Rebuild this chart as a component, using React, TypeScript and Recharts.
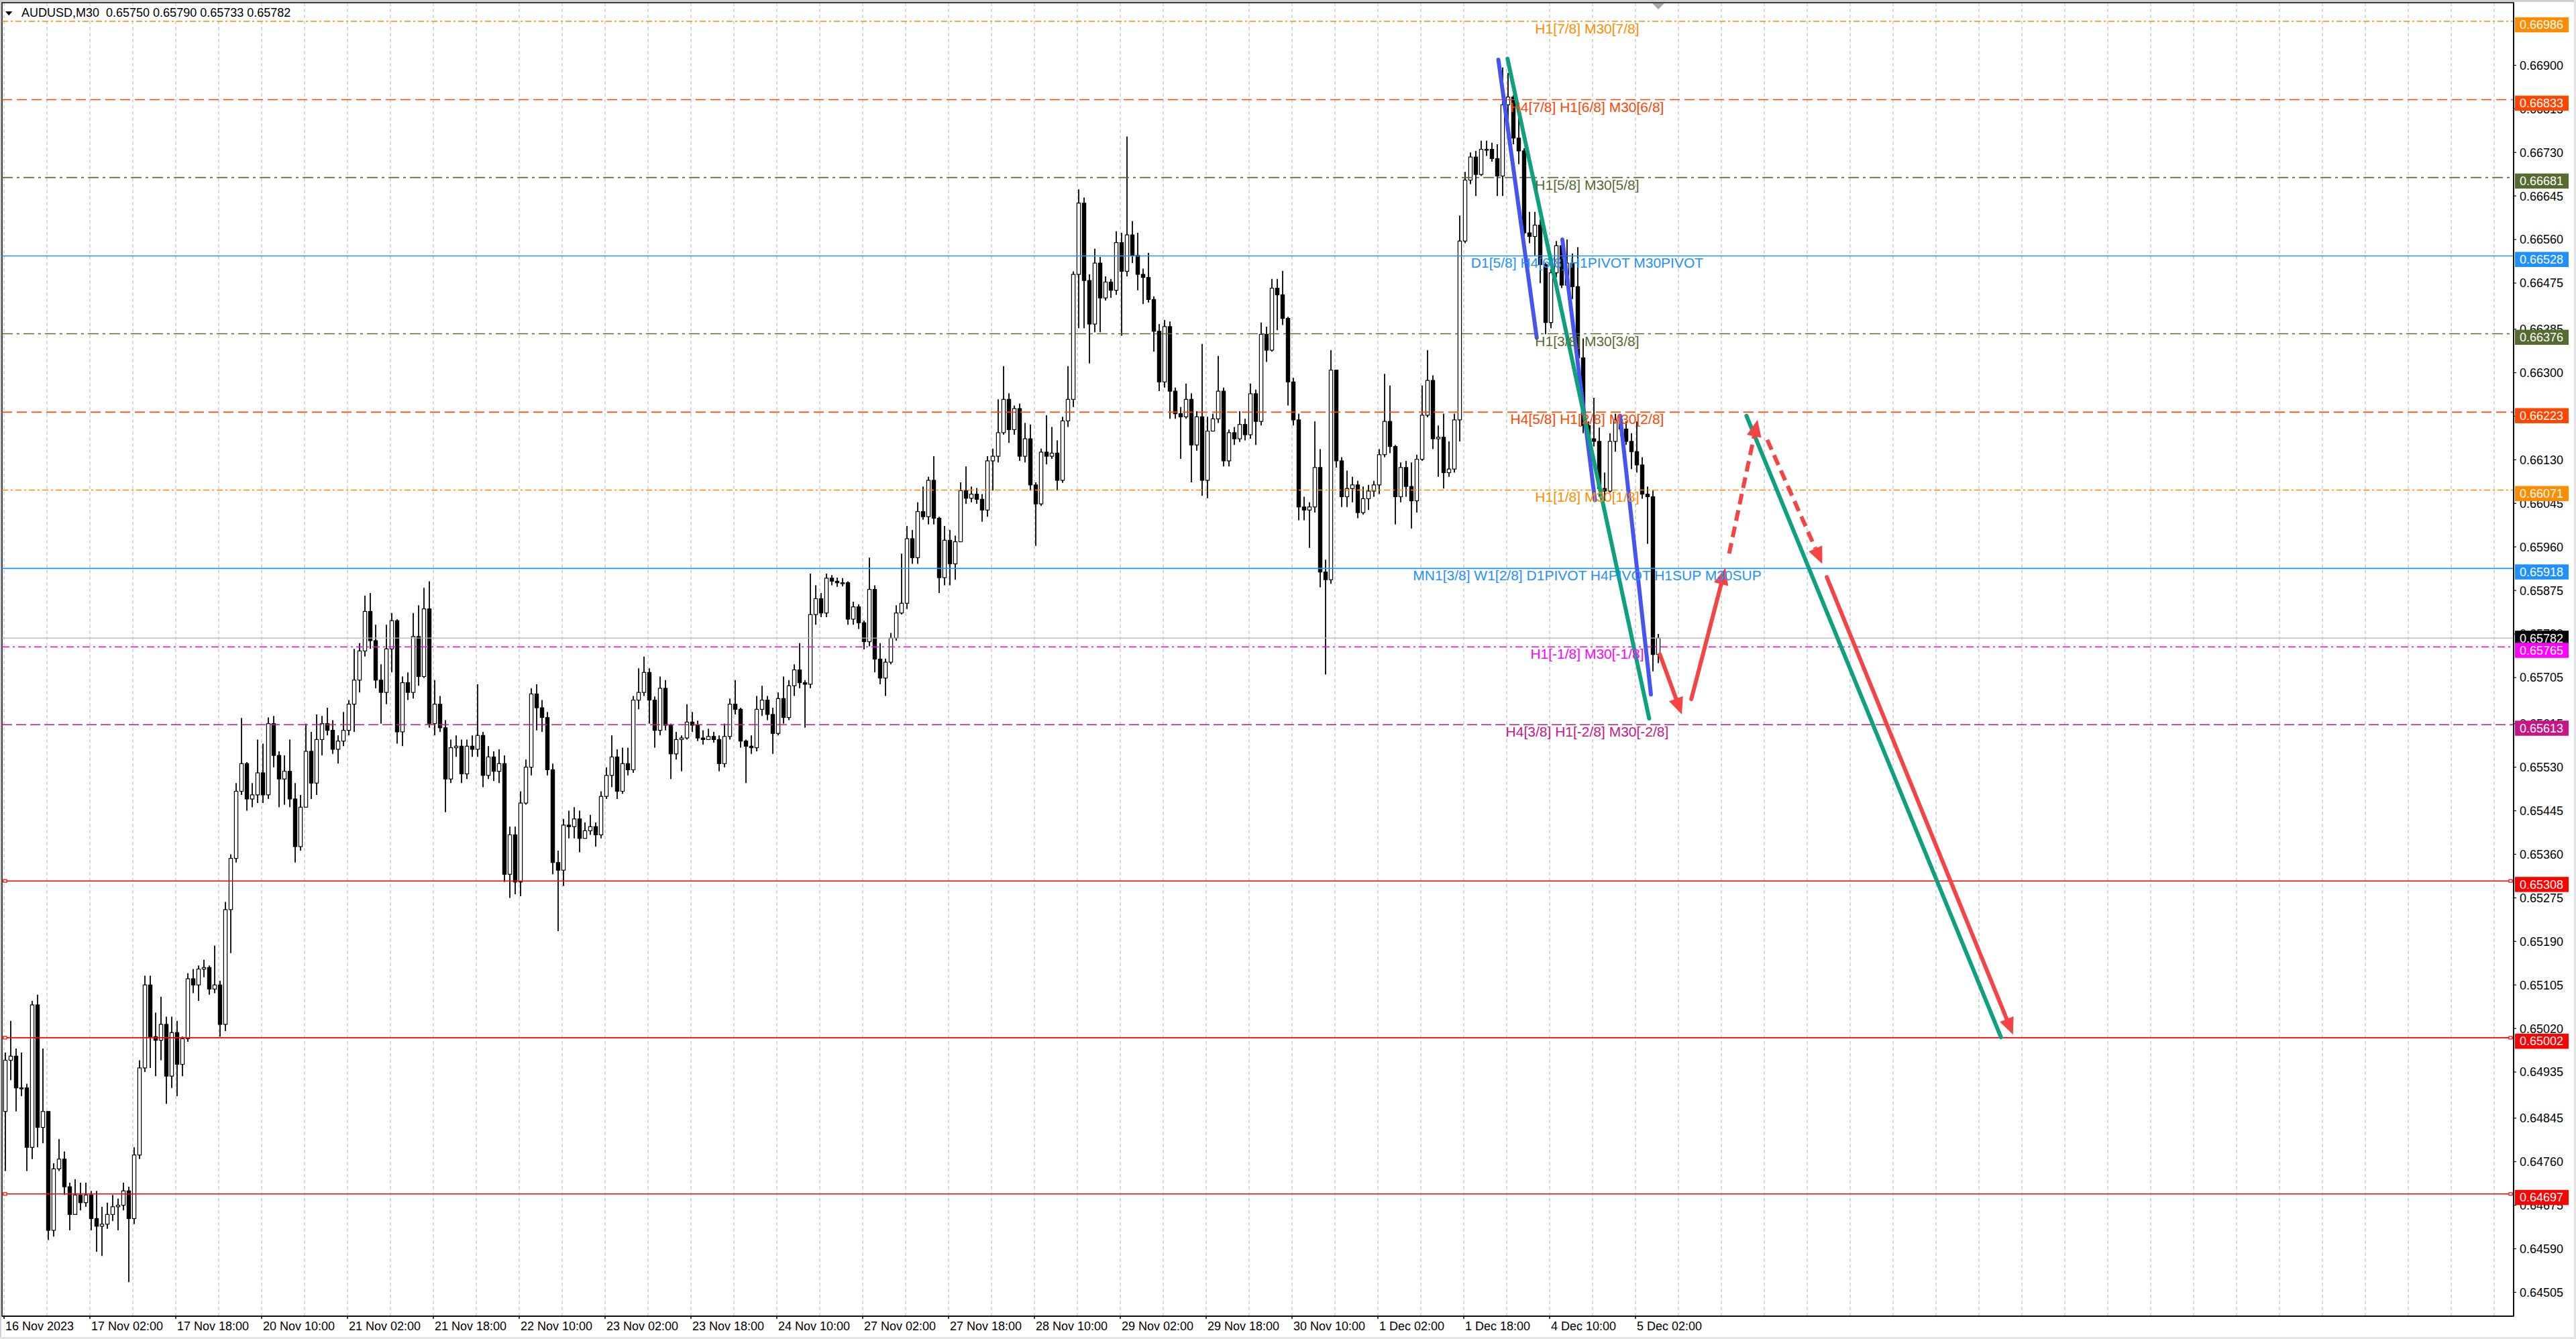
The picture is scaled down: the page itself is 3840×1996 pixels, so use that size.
import React from 'react';
import {
  ComposedChart, Bar, XAxis, YAxis, CartesianGrid,
  ReferenceLine, ReferenceDot, ReferenceArea,
} from 'recharts';

const SYMBOL = 'AUDUSD';
const PERIOD = 'M30';

// hourly candles, 16 Nov 2023 10:00 -> 5 Dec 2023 06:00, prices in points (1e-5)
const FIRST_OPEN = 64858;
const CLOSE = [
  64958, 64966, 64904, 64904, 64788, 65066, 64827, 64858, 64626, 64746,
  64765, 64711, 64657, 64695, 64680, 64695, 64649, 64634, 64638, 64657,
  64672, 64675, 64703, 64649, 64773, 64943, 65105, 65004, 64997, 65028,
  64927, 65012, 64950, 65000, 65117, 65105, 65136, 65139, 65097, 65105,
  65028, 65252, 65352, 65483, 65537, 65468, 65476, 65519, 65476, 65615,
  65553, 65507, 65522, 65468, 65375, 65452, 65561, 65499, 65584, 65615,
  65602, 65565, 65581, 65602, 65653, 65700, 65757, 65834, 65777, 65700,
  65676, 65761, 65816, 65599, 65695, 65676, 65785, 65707, 65839, 65615,
  65653, 65607, 65507, 65568, 65571, 65517, 65571, 65565, 65592, 65514,
  65550, 65522, 65537, 65321, 65398, 65306, 65460, 65530, 65673, 65646,
  65627, 65525, 65344, 65329, 65417, 65414, 65429, 65391, 65406, 65414,
  65398, 65473, 65514, 65550, 65483, 65537, 65525, 65661, 65676, 65715,
  65661, 65602, 65684, 65612, 65556, 65584, 65587, 65618, 65612, 65587,
  65584, 65590, 65584, 65537, 65590, 65653, 65643, 65581, 65571, 65568,
  65643, 65661, 65633, 65596, 65664, 65627, 65689, 65720, 65695, 65692,
  65828, 65859, 65831, 65899, 65893, 65890, 65890, 65819, 65843, 65812,
  65775, 65877, 65741, 65704, 65735, 65782, 65831, 65850, 65976, 65939,
  66029, 66019, 66090, 66016, 65900, 65973, 65927, 65970, 66070, 66055,
  66063, 66053, 66032, 66128, 66137, 66183, 66248, 66189, 66230, 66137,
  66171, 66081, 66044, 66145, 66137, 66143, 66090, 66206, 66248, 66492,
  66631, 66480, 66395, 66514, 66446, 66477, 66461, 66554, 66498, 66569,
  66529, 66492, 66486, 66443, 66381, 66282, 66390, 66264, 66220, 66214,
  66248, 66159, 66214, 66090, 66186, 66210, 66264, 66128, 66183, 66171,
  66199, 66179, 66259, 66205, 66375, 66344, 66465, 66452, 66406, 66282,
  66208, 66038, 66032, 66038, 66115, 65911, 65896, 66305, 66128, 66058,
  66074, 66081, 66027, 66054, 66069, 66081, 66140, 66205, 66156, 66058,
  66115, 66078, 66050, 66131, 66217, 66285, 66171, 66174, 66105, 66112,
  66208, 66557, 66676, 66721, 66687, 66736, 66736, 66718, 66684, 66823,
  66838, 66758, 66733, 66573, 66566, 66588, 66511, 66398, 66495, 66548,
  66471, 66514, 66468, 66329, 66197, 66171, 66166, 66074, 66069, 66166,
  66208, 66190, 66166, 66146, 66120, 66063, 66058, 65750, 65782,
];
const HIGH = [
  64973, 65035, 64981, 64973, 64912, 65074, 65086, 64981, 64858, 64757,
  64804, 64780, 64719, 64726, 64719, 64719, 64703, 64703, 64672, 64680,
  64695, 64688, 64719, 64711, 64788, 64958, 65123, 65123, 65051, 65082,
  65043, 65043, 65035, 65004, 65128, 65136, 65143, 65154, 65143, 65182,
  65113, 65267, 65360, 65499, 65626, 65540, 65499, 65584, 65576, 65627,
  65630, 65561, 65553, 65584, 65499, 65476, 65615, 65599, 65633, 65630,
  65646, 65622, 65592, 65638, 65661, 65761, 65772, 65865, 65870, 65808,
  65731, 65808, 65831, 65819, 65707, 65715, 65831, 65846, 65880, 65893,
  65700, 65669, 65622, 65584, 65592, 65584, 65584, 65592, 65692, 65599,
  65571, 65561, 65565, 65553, 65414, 65414, 65483, 65545, 65684, 65692,
  65661, 65638, 65537, 65367, 65429, 65445, 65452, 65445, 65422, 65437,
  65422, 65483, 65530, 65592, 65565, 65568, 65568, 65669, 65723, 65746,
  65723, 65668, 65707, 65700, 65615, 65599, 65592, 65653, 65638, 65621,
  65602, 65605, 65599, 65592, 65615, 65664, 65700, 65646, 65584, 65592,
  65669, 65689, 65669, 65646, 65676, 65707, 65700, 65731, 65772, 65700,
  65908, 65885, 65870, 65908, 65905, 65900, 65899, 65893, 65853, 65848,
  65816, 65939, 65885, 65772, 65742, 65792, 65846, 65947, 66001, 65993,
  66047, 66078, 66097, 66137, 66019, 66001, 65993, 65982, 66086, 66117,
  66078, 66075, 66063, 66137, 66152, 66248, 66313, 66260, 66236, 66240,
  66202, 66199, 66086, 66152, 66217, 66194, 66168, 66214, 66313, 66498,
  66658, 66642, 66492, 66542, 66526, 66488, 66483, 66576, 66573, 66761,
  66596, 66573, 66503, 66534, 66449, 66395, 66403, 66400, 66271, 66233,
  66279, 66260, 66225, 66356, 66214, 66220, 66333, 66271, 66189, 66194,
  66225, 66210, 66279, 66267, 66398, 66390, 66483, 66483, 66499, 66409,
  66290, 66220, 66058, 66047, 66205, 66151, 65935, 66344, 66305, 66135,
  66109, 66097, 66089, 66078, 66081, 66089, 66151, 66298, 66275, 66159,
  66125, 66128, 66125, 66140, 66275, 66344, 66295, 66197, 66220, 66166,
  66220, 66607, 66692, 66730, 66733, 66753, 66753, 66749, 66746, 66896,
  66885, 66842, 66800, 66738, 66614, 66614, 66599, 66514, 66502, 66557,
  66563, 66560, 66533, 66545, 66367, 66205, 66251, 66193, 66105, 66182,
  66220, 66217, 66205, 66182, 66205, 66135, 66078, 66070, 65790,
];
const LOW = [
  64742, 64919, 64858, 64888, 64742, 64765, 64788, 64796, 64607, 64614,
  64742, 64695, 64626, 64657, 64665, 64672, 64626, 64584, 64576, 64629,
  64644, 64626, 64665, 64525, 64638, 64765, 64935, 64943, 64927, 64958,
  64873, 64904, 64888, 64927, 64994, 65089, 65074, 65120, 65086, 65089,
  65004, 65015, 65167, 65344, 65476, 65445, 65452, 65460, 65460, 65468,
  65530, 65452, 65457, 65452, 65344, 65367, 65452, 65468, 65476, 65553,
  65592, 65556, 65537, 65571, 65592, 65599, 65676, 65746, 65761, 65684,
  65615, 65653, 65715, 65576, 65571, 65661, 65664, 65689, 65704, 65607,
  65592, 65599, 65442, 65499, 65550, 65499, 65507, 65550, 65550, 65491,
  65507, 65503, 65499, 65306, 65275, 65282, 65278, 65457, 65514, 65602,
  65599, 65514, 65321, 65210, 65298, 65391, 65391, 65364, 65391, 65398,
  65375, 65391, 65468, 65491, 65468, 65478, 65514, 65519, 65643, 65669,
  65615, 65568, 65592, 65602, 65507, 65545, 65522, 65584, 65599, 65581,
  65574, 65584, 65578, 65522, 65530, 65584, 65633, 65568, 65499, 65556,
  65561, 65630, 65622, 65556, 65592, 65615, 65622, 65669, 65684, 65607,
  65684, 65808, 65823, 65823, 65885, 65882, 65883, 65808, 65808, 65800,
  65760, 65766, 65715, 65692, 65669, 65731, 65777, 65828, 65839, 65927,
  65927, 66013, 66004, 66004, 65870, 65885, 65885, 65896, 65970, 66044,
  66047, 66044, 66009, 66019, 66070, 66125, 66179, 66163, 66179, 66128,
  66125, 66070, 65962, 66040, 66121, 66132, 66070, 66085, 66194, 66233,
  66387, 66387, 66318, 66379, 66379, 66441, 66446, 66452, 66372, 66488,
  66514, 66461, 66434, 66437, 66341, 66264, 66271, 66210, 66210, 66132,
  66210, 66086, 66148, 66060, 66055, 66186, 66202, 66117, 66117, 66159,
  66165, 66168, 66171, 66159, 66197, 66321, 66341, 66383, 66393, 66236,
  66197, 66012, 66012, 65958, 66027, 65881, 65711, 65888, 66115, 66038,
  66038, 66047, 66016, 66023, 66032, 66058, 66063, 66135, 66143, 66004,
  66047, 66058, 65996, 66027, 66128, 66213, 66151, 66097, 66074, 66097,
  66105, 66166, 66553, 66668, 66645, 66684, 66723, 66712, 66645, 66645,
  66761, 66746, 66707, 66560, 66553, 66529, 66475, 66375, 66387, 66486,
  66465, 66465, 66444, 66313, 66182, 66156, 66156, 66058, 66050, 66066,
  66146, 66177, 66159, 66112, 66105, 66054, 65966, 65717, 65733,
];

// one label every 32 half-hour slots
const TIME_LABELS = [
  '16 Nov 2023', '17 Nov 02:00', '17 Nov 18:00', '20 Nov 10:00', '21 Nov 02:00',
  '21 Nov 18:00', '22 Nov 10:00', '23 Nov 02:00', '23 Nov 18:00', '24 Nov 10:00',
  '27 Nov 02:00', '27 Nov 18:00', '28 Nov 10:00', '29 Nov 02:00', '29 Nov 18:00',
  '30 Nov 10:00', '1 Dec 02:00', '1 Dec 18:00', '4 Dec 10:00', '5 Dec 02:00',
];

const PRICE_TICKS = [
  0.669, 0.66815, 0.6673, 0.66645, 0.6656, 0.66475, 0.66385, 0.663, 0.66215, 0.6613,
  0.66045, 0.6596, 0.65875, 0.6579, 0.65705, 0.65615, 0.6553, 0.65445, 0.6536, 0.65275,
  0.6519, 0.65105, 0.6502, 0.64935, 0.64845, 0.6476, 0.64675, 0.6459, 0.64505,
];

const LEVEL_PRICES = [
  0.66986, 0.66833, 0.66681, 0.66528, 0.66376, 0.66223, 0.66071,
  0.65918, 0.65765, 0.65613, 0.65308, 0.65002, 0.64697,
];
const LEVEL_NAMES = [
  'H1[7/8] M30[7/8]',
  'H4[7/8] H1[6/8] M30[6/8]',
  'H1[5/8] M30[5/8]',
  'D1[5/8] H4[6/8] H1PIVOT M30PIVOT',
  'H1[3/8] M30[3/8]',
  'H4[5/8] H1[2/8] M30[2/8]',
  'H1[1/8] M30[1/8]',
  'MN1[3/8] W1[2/8] D1PIVOT H4PIVOT H1SUP M30SUP',
  'H1[-1/8] M30[-1/8]',
  'H4[3/8] H1[-2/8] M30[-2/8]',
  '', '', '',
];

// drawn objects: [slot from, price from, slot to, price to]
const BLUE_LINES = [
  [556.9, 0.66911, 571.2, 0.66368],
  [580.75, 0.6656, 592.9, 0.66051],
  [602.25, 0.66216, 613.75, 0.65672],
];
const GREEN_LINES = [
  [560.3, 0.66913, 613.1, 0.65625],
  [649.35, 0.66216, 744.2, 0.65003],
];
const RED_ARROWS = [
  [617.1, 0.6575, 625.25, 0.65633],
  [628.8, 0.65663, 641.5, 0.65919],
  [679.3, 0.65901, 748.7, 0.65008],
];
const RED_DASHED_ARROWS = [
  [642.9, 0.65947, 653.5, 0.66208],
  [657.1, 0.66169, 677.6, 0.65927],
];

// ---- layout / styles ----
const W = 3840;
const H = 1996;
const FONT = '"Liberation Sans", Arial, sans-serif';
const X_MIN = -0.75;
const X_MAX = 935.25;
const Y_MIN = 0.644584;
const Y_MAX = 0.670223;
const LABEL_SLOT = 590;

type LevelStyle = { color: string; dash?: string; marks?: boolean };
const LEVEL_STYLE: LevelStyle[] = [
  { color: '#FF8C00', dash: '9 4 3 4' },
  { color: '#FF4500', dash: '15 7' },
  { color: '#556B2F', dash: '16 6 4 6' },
  { color: '#1E90FF' },
  { color: '#556B2F', dash: '16 6 4 6' },
  { color: '#FF4500', dash: '15 7' },
  { color: '#FF8C00', dash: '9 4 3 4' },
  { color: '#1E90FF' },
  { color: '#FF00FF', dash: '11 5 3 5' },
  { color: '#C71585', dash: '15 6' },
  { color: '#FF0000', marks: true },
  { color: '#FF0000', marks: true },
  { color: '#FF0000', marks: true },
];

const BLUE = '#4655F0';
const GREEN = '#0FA080';
const RED = '#F44444';

function priceTag(x: number, top: number, price: number, bg: string) {
  return (
    <g>
      <rect x={x + 2} y={top} width={80} height={22.5} fill={bg} />
      <text x={x + 9} y={top + 17.5} fill="#fff" fontSize={18}>{price.toFixed(5)}</text>
    </g>
  );
}

// price scale tick: small mark + number, drawn right of the plot
const tickShape = (price: number) => (p: any) => {
  const right = Math.max(p.x1, p.x2);
  return (
    <g>
      <line x1={right} y1={p.y1} x2={right + 4} y2={p.y1} stroke="#000" strokeWidth={1.2} />
      <text x={right + 9} y={p.y1 + 6.4} fontSize={18} fill="#000">{price.toFixed(5)}</text>
    </g>
  );
};

const levelShape = (price: number, st: LevelStyle) => (p: any) => {
  const left = Math.min(p.x1, p.x2);
  const right = Math.max(p.x1, p.x2);
  const y = p.y1;
  return (
    <g>
      <line x1={left} y1={y} x2={right} y2={y} stroke={st.color} strokeWidth={1.6} strokeDasharray={st.dash} />
      {st.marks && (
        <g>
          <rect x={left + 2} y={y - 2} width={5} height={4} fill="#fff" stroke={st.color} strokeWidth={1.2} />
          <rect x={right - 7} y={y - 2} width={5} height={4} fill="#fff" stroke={st.color} strokeWidth={1.2} />
        </g>
      )}
      {priceTag(right, y - 6, price, st.color)}
    </g>
  );
};

const bidShape = (price: number) => (p: any) => {
  const left = Math.min(p.x1, p.x2);
  const right = Math.max(p.x1, p.x2);
  return (
    <g>
      <line x1={left} y1={p.y1} x2={right} y2={p.y1} stroke="#B4B4B4" strokeWidth={1.3} />
      {priceTag(right, p.y1 - 11, price, '#000')}
    </g>
  );
};

const strokeShape = (color: string, arrow: boolean, dashed: boolean) => (p: any) => {
  const { x1, y1, x2, y2 } = p;
  if (!arrow) {
    return <line x1={x1} y1={y1} x2={x2} y2={y2} stroke={color} strokeWidth={6} strokeLinecap="round" />;
  }
  const dx = x2 - x1;
  const dy = y2 - y1;
  const len = Math.hypot(dx, dy) || 1;
  const ux = dx / len;
  const uy = dy / len;
  const hl = 25;
  const hw = 11;
  const bx = x2 - ux * hl;
  const by = y2 - uy * hl;
  return (
    <g>
      <line
        x1={x1} y1={y1} x2={bx} y2={by}
        stroke={color} strokeWidth={6}
        strokeLinecap={dashed ? 'butt' : 'round'}
        strokeDasharray={dashed ? '16 9' : undefined}
      />
      <polygon
        points={`${x2},${y2} ${bx - uy * hw},${by + ux * hw} ${bx + uy * hw},${by - ux * hw}`}
        fill={color}
      />
    </g>
  );
};

const Candle = (p: any) => {
  const { x, y, width, height, payload } = p;
  if (!payload || width == null) return null;
  const { o, h, l, c } = payload;
  const yHigh = Math.min(y, y + height);
  const yLow = Math.max(y, y + height);
  const span = h - l || 1e-9;
  const py = (v: number) => yHigh + ((h - v) / span) * (yLow - yHigh);
  const cx = x + width / 2;
  const top = py(Math.max(o, c));
  const bot = py(Math.min(o, c));
  const bull = c >= o;
  return (
    <g>
      <line x1={cx} x2={cx} y1={yHigh} y2={yLow} stroke="#000" strokeWidth={1.8} />
      <rect
        x={cx - 2.6} y={top} width={5.2} height={Math.max(bot - top, 1.4)}
        fill={bull ? '#fff' : '#000'} stroke="#000" strokeWidth={1.2}
      />
    </g>
  );
};

const TimeTick = (p: any) => {
  const k = Math.round(p.payload.value / 32);
  return (
    <text x={p.x + 2} y={p.y + 15} fontSize={18} fill="#000" textAnchor="start">
      {TIME_LABELS[k]}
    </text>
  );
};

export default function App() {
  const rows = CLOSE.map((c, i) => {
    const o = (i === 0 ? FIRST_OPEN : CLOSE[i - 1]) / 1e5;
    const h = HIGH[i] / 1e5;
    const l = LOW[i] / 1e5;
    return { slot: 2 * i + 0.5, o, h, l, c: c / 1e5, range: [l, h] };
  });
  const last = rows[rows.length - 1];
  const header = `${SYMBOL},${PERIOD}  ${last.o.toFixed(5)} ${last.h.toFixed(5)} ${last.l.toFixed(5)} ${last.c.toFixed(5)}`;
  const timeTicks = TIME_LABELS.map((_, k) => 32 * k);
  const gridSlots = Array.from({ length: 59 }, (_, k) => 16 * k);
  const seg = (s: number[]) => [{ x: s[0], y: s[1] }, { x: s[2], y: s[3] }] as any;

  return (
    <div style={{ position: 'absolute', left: 0, top: 0, width: W, height: H, background: '#fff', fontFamily: FONT, overflow: 'hidden' }}>
      <div style={{ position: 'absolute', left: 0, top: 0, width: W, height: 3, background: '#CFCFCF' }} />
      <div style={{ position: 'absolute', left: 0, top: 0, width: 2, height: H, background: '#CFCFCF' }} />
      <div style={{ position: 'absolute', right: 0, top: 0, width: 3, height: H, background: '#E4E4E4' }} />
      <div style={{ position: 'absolute', left: 0, bottom: 0, width: W, height: 3, background: '#E4E4E4' }} />
      <div style={{ position: 'absolute', left: 0, top: 0 }}>
        <ComposedChart width={W} height={H} data={rows} margin={{ top: 4, right: 0, bottom: 0, left: 3 }}>
          <CartesianGrid
            horizontalValues={PRICE_TICKS}
            verticalValues={gridSlots}
            stroke="#C4C4C4"
            strokeWidth={1.3}
            strokeDasharray="5 4"
          />
          <XAxis
            dataKey="slot"
            type="number"
            domain={[X_MIN, X_MAX]}
            allowDataOverflow
            ticks={timeTicks}
            interval={0}
            tick={TimeTick}
            tickSize={4}
            tickMargin={2}
            height={34}
            axisLine={{ stroke: '#000', strokeWidth: 1.5 }}
            tickLine={{ stroke: '#000', strokeWidth: 1.5 }}
          />
          <YAxis
            orientation="right"
            type="number"
            domain={[Y_MIN, Y_MAX]}
            allowDataOverflow
            ticks={PRICE_TICKS}
            interval={0}
            width={93}
            tick={false}
            tickLine={false}
            axisLine={{ stroke: '#000', strokeWidth: 1.5 }}
          />
          <ReferenceArea
            x1={X_MIN} x2={X_MAX} y1={Y_MIN} y2={Y_MAX}
            fill="none" fillOpacity={0} stroke="#000" strokeWidth={1.5} ifOverflow="visible"
          />
          {PRICE_TICKS.map((t) => (
            <ReferenceLine key={`t${t}`} y={t} shape={tickShape(t)} ifOverflow="visible" />
          ))}
          <ReferenceLine y={last.c} shape={bidShape(last.c)} ifOverflow="visible" />
          {LEVEL_PRICES.map((price, i) => (
            <ReferenceLine key={`lv${i}`} y={price} shape={levelShape(price, LEVEL_STYLE[i])} ifOverflow="visible" />
          ))}
          {LEVEL_PRICES.map((price, i) => LEVEL_NAMES[i] ? (
            <ReferenceDot
              key={`ln${i}`}
              x={LABEL_SLOT}
              y={price}
              r={0}
              ifOverflow="visible"
              shape={(p: any) => (
                <text x={p.cx} y={p.cy + 18} fontSize={21} fill={LEVEL_STYLE[i].color} textAnchor="middle">
                  {LEVEL_NAMES[i]}
                </text>
              )}
            />
          ) : null)}
          <Bar dataKey="range" barSize={6} shape={Candle} isAnimationActive={false} />
          {BLUE_LINES.map((s, i) => (
            <ReferenceLine key={`b${i}`} segment={seg(s)} shape={strokeShape(BLUE, false, false)} ifOverflow="visible" />
          ))}
          {GREEN_LINES.map((s, i) => (
            <ReferenceLine key={`g${i}`} segment={seg(s)} shape={strokeShape(GREEN, false, false)} ifOverflow="visible" />
          ))}
          {RED_ARROWS.map((s, i) => (
            <ReferenceLine key={`r${i}`} segment={seg(s)} shape={strokeShape(RED, true, false)} ifOverflow="visible" />
          ))}
          {RED_DASHED_ARROWS.map((s, i) => (
            <ReferenceLine key={`rd${i}`} segment={seg(s)} shape={strokeShape(RED, true, true)} ifOverflow="visible" />
          ))}
          <ReferenceDot
            x={last.slot}
            y={Y_MAX}
            r={0}
            ifOverflow="visible"
            shape={(p: any) => (
              <polygon points={`${p.cx - 9},${p.cy + 1} ${p.cx + 9},${p.cy + 1} ${p.cx},${p.cy + 10}`} fill="#A9A9A9" />
            )}
          />
        </ComposedChart>
      </div>
      <svg style={{ position: 'absolute', left: 8, top: 17 }} width={11} height={7}>
        <polygon points="0,0 10.5,0 5.25,6" fill="#000" />
      </svg>
      <div style={{ position: 'absolute', left: 32, top: 9, fontSize: 18, lineHeight: 'normal', whiteSpace: 'pre', color: '#000' }}>
        {header}
      </div>
    </div>
  );
}
